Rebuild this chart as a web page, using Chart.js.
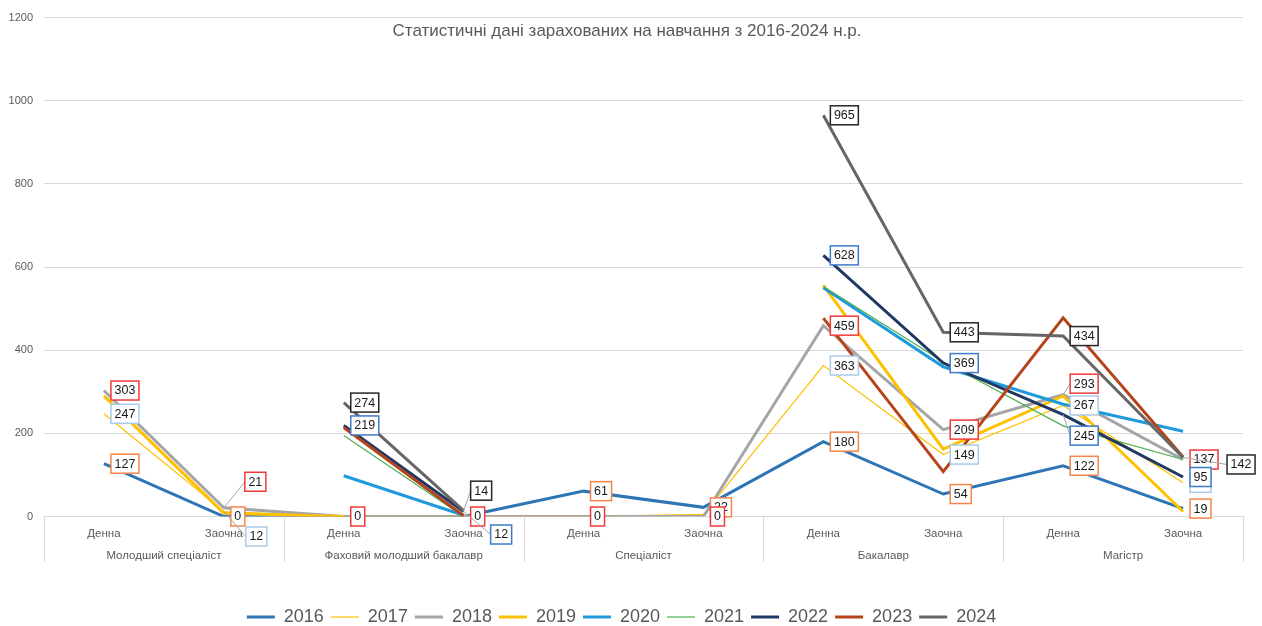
<!DOCTYPE html>
<html>
<head>
<meta charset="utf-8">
<script src="https://cdn.jsdelivr.net/npm/chart.js@4.4.1/dist/chart.umd.min.js"></script>
<style>
  html, body { margin: 0; padding: 0; background: #fff; }
  #wrap { width: 1262px; height: 626px; }
</style>
</head>
<body>
<div id="wrap"><canvas id="grafico"></canvas></div>
<script>
// --- дані ---
const categories = ['Денна', 'Заочна', 'Денна', 'Заочна', 'Денна', 'Заочна', 'Денна', 'Заочна', 'Денна', 'Заочна'];
const groups = ['Молодший спеціаліст', 'Фаховий молодший бакалавр', 'Спеціаліст', 'Бакалавр', 'Магістр'];
const years = ['2016', '2017', '2018', '2019', '2020', '2021', '2022', '2023', '2024'];
const yTicks = [0, 200, 400, 600, 800, 1000, 1200];

const v2016 = [127, 0, 0, 0, 61, 22, 180, 54, 122, 19];
const v2017 = [247, 12, 0, 0, 0, 5, 363, 149, 267, 81];
const v2018 = [303, 21, 0, 0, 0, 0, 459, 209, 293, 137];
const v2019 = [290, 8, 0, null, null, null, 556, 162, 290, 12];
const v2020 = [null, null, 98, 3, null, null, 550, 360, 270, 205];
const v2021 = [null, null, 195, 0, null, null, 553, 372, 218, 137];
const v2022 = [null, null, 219, 12, null, null, 628, 369, 245, 95];
const v2023 = [null, null, 214, 2, null, null, 477, 108, 478, 143];
const v2024 = [null, null, 274, 14, null, null, 965, 443, 434, 142];

const values = [v2016, v2017, v2018, v2019, v2020, v2021, v2022, v2023, v2024];
const colors = ['#2E75B6', '#FFC000', '#A5A5A5', '#FFC000', '#1F9BDB', '#4CAF50', '#1F3864', '#B5441B', '#666666'];
const widths = [3, 1.2, 3, 3, 3, 1.2, 3, 3, 3];

// підписи даних: тільки для деяких років, колір рамки
const labelBorders = { '2016': '#F4854A', '2017': '#A9CBEA', '2018': '#F03A3A', '2022': '#3F7BC8', '2024': '#262626' };
const hiddenLabels = { '2016': [2, 3], '2017': [2, 3, 4, 5] };
// зсуви підписів, які Excel відсунув з лінією-виноскою
const labelShift = {
  '2018-1': [14, -26], '2017-1': [15, 25], '2024-3': [0, -20], '2022-3': [20, 23],
  '2018-8': [0, -11], '2022-8': [0, 21], '2024-9': [37, 7]
};

const FONT = "'Liberation Sans', Arial, sans-serif";

const datasets = years.map((y, i) => ({
  label: y,
  data: values[i],
  borderColor: colors[i],
  backgroundColor: colors[i],
  borderWidth: widths[i],
  pointRadius: 0,
  pointHoverRadius: 0,
  tension: 0,
  spanGaps: false,
  order: years.length - i   // як в Excel: останній рік зверху
}));

// заголовок, підписи груп, розділювачі
const extras = {
  id: 'extras',
  afterDraw(chart) {
    const ctx = chart.ctx;
    const area = chart.chartArea;
    const step = (area.right - area.left) / categories.length;
    ctx.save();
    // розділювачі під віссю
    ctx.strokeStyle = '#d9d9d9';
    ctx.lineWidth = 1;
    for (let k = 0; k <= groups.length; k++) {
      const x = Math.round(area.left + k * step * 2) + 0.5;
      ctx.beginPath();
      ctx.moveTo(x, area.bottom);
      ctx.lineTo(x, area.bottom + 46);
      ctx.stroke();
    }
    ctx.fillStyle = '#595959';
    ctx.font = '11.5px ' + FONT;
    ctx.textAlign = 'center';
    ctx.textBaseline = 'middle';
    groups.forEach((g, k) => {
      ctx.fillText(g, area.left + (k * 2 + 1) * step, area.bottom + 39);
    });
    // заголовок
    ctx.font = '17px ' + FONT;
    ctx.fillText('Статистичні дані зарахованих на навчання з 2016-2024 н.р.', 627, 31);
    ctx.restore();
  }
};

// підписи значень у рамках
const dataLabels = {
  id: 'dataLabels',
  afterDatasetsDraw(chart) {
    const ctx = chart.ctx;
    ctx.save();
    ctx.font = '12.5px ' + FONT;
    ctx.textAlign = 'center';
    ctx.textBaseline = 'middle';
    years.forEach((y, di) => {
      if (!labelBorders[y]) return;
      const meta = chart.getDatasetMeta(di);
      const hidden = hiddenLabels[y] || [];
      values[di].forEach((v, i) => {
        if (v === null || hidden.includes(i)) return;
        const pt = meta.data[i];
        const txt = String(v);
        const w = Math.round(ctx.measureText(txt).width) + 7;
        const h = 19;
        const sh = labelShift[y + '-' + i];
        let left = pt.x + 7, cy = pt.y;
        if (sh) { left += sh[0]; cy += sh[1]; }
        const top = cy - h / 2;
        if (sh) {
          ctx.strokeStyle = '#a6a6a6';
          ctx.lineWidth = 1;
          ctx.beginPath();
          ctx.moveTo(pt.x, pt.y);
          ctx.lineTo(left, cy);
          ctx.stroke();
        }
        ctx.fillStyle = '#fff';
        ctx.fillRect(left, top, w, h);
        ctx.strokeStyle = labelBorders[y];
        ctx.lineWidth = 1.5;
        ctx.strokeRect(left, top, w, h);
        ctx.fillStyle = '#1a1a1a';
        ctx.fillText(txt, left + w / 2, cy + 0.5);
      });
    });
    ctx.restore();
  }
};

const configuracion = {
  type: 'line',
  data: { labels: categories, datasets: datasets },
  plugins: [extras, dataLabels],
  options: {
    responsive: true,
    maintainAspectRatio: false,
    animation: false,
    layout: { padding: { top: 15, right: 19, left: 0, bottom: -10 } },
    plugins: {
      title: { display: false },
      tooltip: { enabled: false },
      legend: {
        position: 'bottom',
        labels: {
          usePointStyle: true,
          pointStyle: 'line',
          pointStyleWidth: 28,
          color: '#595959',
          font: { size: 18, family: FONT },
          padding: 7,
          sort: (a, b) => a.datasetIndex - b.datasetIndex
        }
      }
    },
    scales: {
      x: {
        offset: true,
        grid: { display: false },
        border: { display: true, color: '#d9d9d9' },
        ticks: { color: '#595959', font: { size: 11.5, family: FONT }, padding: 2, maxRotation: 0, autoSkip: false },
        afterFit(scale) { scale.height = 84.5; }
      },
      y: {
        min: 0,
        max: 1200,
        afterBuildTicks(scale) { scale.ticks = yTicks.map(v => ({ value: v })); },
        grid: { color: '#d9d9d9', drawTicks: false },
        border: { display: false },
        ticks: { color: '#595959', font: { size: 11, family: FONT }, padding: 11, callback: v => String(v) },
        afterFit(scale) { scale.width = 44; }
      }
    }
  }
};

const ctx = document.getElementById('grafico').getContext('2d');
new Chart(ctx, configuracion);
</script>
</body>
</html>
